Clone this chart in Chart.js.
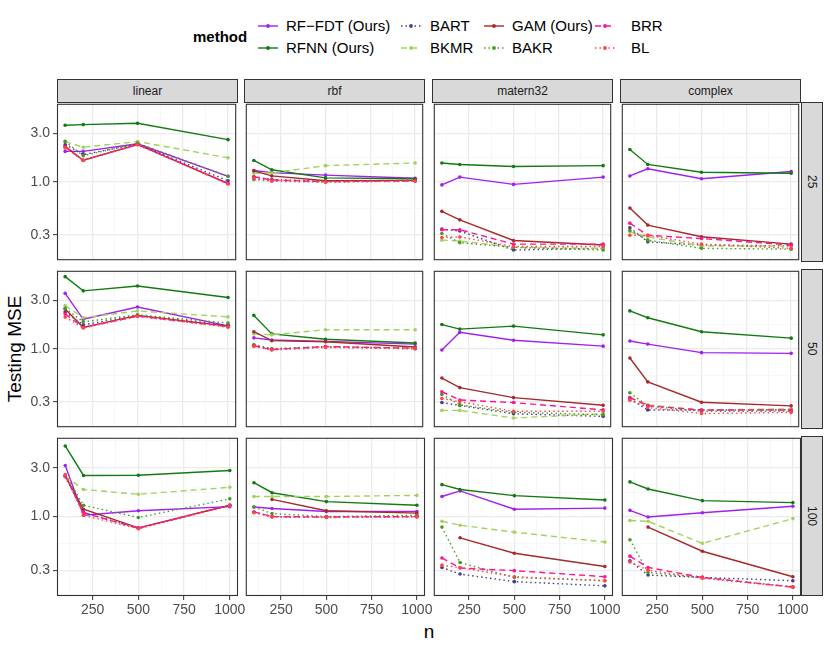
<!DOCTYPE html>
<html>
<head>
<meta charset="utf-8">
<script src="https://cdn.jsdelivr.net/npm/chart.js@4.4.1/dist/chart.umd.min.js"></script>
<style>
  body { margin: 0; width: 830px; height: 646px; background: #fff; position: relative; overflow: hidden;
         font-family: "Liberation Sans", Arial, Helvetica, sans-serif; }
  .abs { position: absolute; }
  .strip { position: absolute; background: #D9D9D9; border: 1px solid #333; box-sizing: border-box;
           color: #1A1A1A; font-size: 12px; display: flex; align-items: center; justify-content: center; }
  .vstrip { writing-mode: vertical-rl; }
  .leg { position: absolute; font-size: 15px; color: #000; line-height: 18px; white-space: nowrap; }
  canvas { position: absolute; }
</style>
</head>
<body>
<script>
// ---- data ----
const sampleSizes = [100, 200, 500, 1000];
const methods = ['RF\u2212FDT (Ours)', 'RFNN (Ours)', 'BART', 'BKMR', 'GAM (Ours)', 'BAKR', 'BRR', 'BL'];
const kernels = ['linear', 'rbf', 'matern32', 'complex'];
const dims = ['25', '50', '100'];
const yTickLabels = ['0.3', '1.0', '3.0'];
const xTickLabels = ['250', '500', '750', '1000'];

// rows follow the methods order above, columns follow sampleSizes
const linear_p25 = [
  [1.99, 1.99, 2.37, 1.13],
  [3.61, 3.66, 3.77, 2.60],
  [2.33, 1.85, 2.35, 1.02],
  [2.49, 2.19, 2.49, 1.72],
  [2.23, 1.63, 2.33, 0.96],
  [2.50, 1.80, 2.40, 1.13],
  [2.20, 1.63, 2.33, 0.96],
  [2.15, 1.62, 2.31, 0.95]
];
const rbf_p25 = [
  [1.29, 1.23, 1.16, 1.08],
  [1.62, 1.31, 1.09, 1.07],
  [1.12, 1.05, 1.01, 1.03],
  [1.21, 1.22, 1.44, 1.53],
  [1.28, 1.14, 1.02, 1.03],
  [1.05, 1.03, 1.00, 1.02],
  [1.12, 1.04, 1.00, 1.02],
  [1.08, 1.01, 0.99, 1.01]
];
const matern32_p25 = [
  [0.93, 1.11, 0.94, 1.11],
  [1.53, 1.48, 1.41, 1.44],
  [0.340, 0.326, 0.212, 0.220],
  [0.265, 0.260, 0.225, 0.220],
  [0.51, 0.42, 0.263, 0.237],
  [0.308, 0.250, 0.225, 0.212],
  [0.336, 0.336, 0.242, 0.242],
  [0.281, 0.285, 0.229, 0.229]
];
const complex_p25 = [
  [1.14, 1.34, 1.07, 1.26],
  [2.08, 1.48, 1.24, 1.21],
  [0.351, 0.255, 0.237, 0.233],
  [0.320, 0.285, 0.232, 0.232],
  [0.55, 0.373, 0.286, 0.242],
  [0.330, 0.265, 0.220, 0.216],
  [0.390, 0.296, 0.275, 0.237],
  [0.296, 0.296, 0.242, 0.220]
];
const linear_p50 = [
  [3.52, 1.95, 2.58, 1.68],
  [5.14, 3.72, 4.15, 3.20],
  [2.30, 1.72, 2.13, 1.70],
  [2.66, 2.02, 2.36, 2.06],
  [2.47, 1.62, 2.13, 1.67],
  [2.50, 1.84, 2.16, 1.79],
  [2.20, 1.62, 2.10, 1.65],
  [2.05, 1.60, 2.08, 1.63]
];
const rbf_p50 = [
  [1.28, 1.22, 1.18, 1.11],
  [2.13, 1.40, 1.24, 1.14],
  [1.07, 0.99, 1.04, 1.00],
  [1.40, 1.37, 1.54, 1.54],
  [1.47, 1.20, 1.17, 1.04],
  [1.10, 1.00, 1.05, 1.01],
  [1.07, 0.98, 1.05, 1.01],
  [1.05, 0.97, 1.03, 1.00]
];
const matern32_p50 = [
  [0.97, 1.45, 1.21, 1.06],
  [1.73, 1.56, 1.67, 1.37],
  [0.294, 0.275, 0.228, 0.215],
  [0.246, 0.246, 0.207, 0.228],
  [0.513, 0.413, 0.329, 0.277],
  [0.354, 0.279, 0.236, 0.223],
  [0.376, 0.312, 0.294, 0.249],
  [0.323, 0.300, 0.241, 0.241]
];
const complex_p50 = [
  [1.19, 1.11, 0.914, 0.90],
  [2.36, 2.02, 1.47, 1.27],
  [0.320, 0.248, 0.248, 0.250],
  [0.330, 0.280, 0.248, 0.255],
  [0.81, 0.47, 0.296, 0.273],
  [0.367, 0.273, 0.241, 0.241],
  [0.330, 0.273, 0.248, 0.248],
  [0.310, 0.263, 0.229, 0.235]
];
const linear_p100 = [
  [3.15, 1.03, 1.14, 1.25],
  [4.89, 2.52, 2.53, 2.82],
  [2.45, 1.10, 0.77, 1.29],
  [2.47, 1.84, 1.65, 1.93],
  [2.50, 1.18, 0.776, 1.29],
  [2.55, 1.29, 0.98, 1.49],
  [2.50, 1.09, 0.77, 1.29],
  [2.55, 1.03, 0.76, 1.28]
];
const rbf_p100 = [
  [1.24, 1.20, 1.12, 1.12],
  [2.14, 1.71, 1.40, 1.29],
  [1.11, 1.00, 0.99, 1.00],
  [1.57, 1.57, 1.57, 1.61],
  [null, 1.47, 1.14, 1.08],
  [1.24, 1.07, 1.00, 1.03],
  [1.11, 1.00, 0.99, 1.00],
  [1.09, 0.99, 0.98, 0.99]
];
const matern32_p100 = [
  [1.57, 1.78, 1.18, 1.21],
  [2.05, 1.84, 1.60, 1.45],
  [0.319, 0.275, 0.232, 0.211],
  [0.90, 0.824, 0.705, 0.565],
  [null, 0.621, 0.439, 0.326],
  [0.79, 0.356, 0.255, 0.237],
  [0.395, 0.315, 0.297, 0.259],
  [0.336, 0.318, 0.259, 0.237]
];
const complex_p100 = [
  [1.15, 0.99, 1.09, 1.26],
  [2.18, 1.86, 1.43, 1.37],
  [0.370, 0.269, 0.255, 0.237],
  [0.915, 0.90, 0.548, 0.956],
  [null, 0.79, 0.459, 0.259],
  [0.594, 0.285, 0.255, 0.207],
  [0.411, 0.319, 0.255, 0.205],
  [0.360, 0.300, 0.250, 0.205]
];

// ---- styles ----
const colors = ['#A020F0', '#137A13', '#483D8B', '#A2D25C', '#A52A2A', '#4A9A1E', '#FF1493', '#FF4545'];
const dashes = [[], [], [1.5, 3], [6, 4], [], [1.5, 3], [6, 4], [1.5, 3]];

const panels = [
  [linear_p25, rbf_p25, matern32_p25, complex_p25],
  [linear_p50, rbf_p50, matern32_p50, complex_p50],
  [linear_p100, rbf_p100, matern32_p100, complex_p100]
];

// ---- layout ----
const FONT = '"Liberation Sans", Arial, Helvetica, sans-serif';
const panelLeft = [57, 244, 432, 620];
const panelTop = [102, 269, 436];
const panelW = 181, panelH = 160;
const yAxisW = 46, xAxisH = 26, padR = 16;
const yMin = 0.168, yMax = 5.87;
const yGrid = [Math.sqrt(0.03), 0.3, Math.sqrt(0.3), 1, Math.sqrt(3), 3, Math.sqrt(30)];
const xGrid = [125, 250, 375, 500, 625, 750, 875, 1000];

function isMajorY(v) { return yTickLabels.some(t => Math.abs(parseFloat(t) - v) < 1e-6); }
function isMajorX(v) { return xTickLabels.indexOf(String(v)) >= 0; }

const borderPlugin = {
  id: 'panelBorder',
  afterDraw(chart) {
    const a = chart.chartArea, ctx = chart.ctx;
    ctx.save();
    ctx.strokeStyle = '#333333';
    ctx.lineWidth = 1.1;
    ctx.strokeRect(a.left + 0.5, a.top + 0.5, a.right - a.left - 1, a.bottom - a.top - 1);
    ctx.restore();
  }
};

function addDiv(cls, text, css) {
  const d = document.createElement('div');
  d.className = cls;
  d.textContent = text;
  Object.assign(d.style, css);
  document.body.appendChild(d);
  return d;
}

// strips
kernels.forEach((k, c) => {
  addDiv('strip', k, { left: panelLeft[c] + 'px', top: '79px', width: panelW + 'px', height: '24px' });
});
dims.forEach((d, r) => {
  addDiv('strip vstrip', d, { left: '801px', top: panelTop[r] + 'px', width: '22px', height: panelH + 'px' });
});

// axis titles
addDiv('abs', 'Testing MSE', { left: '-40px', top: '338px', width: '110px', textAlign: 'center',
  fontSize: '19px', transform: 'rotate(-90deg)', lineHeight: '22px' });
addDiv('abs', 'n', { left: '379px', top: '621px', width: '100px', textAlign: 'center', fontSize: '19px', lineHeight: '22px' });

// legend
addDiv('leg', 'method', { left: '193px', top: '28px', fontWeight: 'bold' });
const legCols = [[258, 286], [401, 430], [484, 512], [595, 631]];
const legRows = [26, 47.5];
methods.forEach((m, k) => {
  const col = Math.floor(k / 2), row = k % 2;
  const y = legRows[row];
  const svgNS = 'http://www.w3.org/2000/svg';
  const svg = document.createElementNS(svgNS, 'svg');
  svg.setAttribute('width', '22');
  svg.setAttribute('height', '10');
  svg.style.position = 'absolute';
  svg.style.left = legCols[col][0] + 'px';
  svg.style.top = (y - 5) + 'px';
  const ln = document.createElementNS(svgNS, 'line');
  ln.setAttribute('x1', '0'); ln.setAttribute('x2', '20');
  ln.setAttribute('y1', '5'); ln.setAttribute('y2', '5');
  ln.setAttribute('stroke', colors[k]);
  ln.setAttribute('stroke-width', '1.4');
  if (dashes[k].length) ln.setAttribute('stroke-dasharray', dashes[k].join(' '));
  svg.appendChild(ln);
  const pt = document.createElementNS(svgNS, 'circle');
  pt.setAttribute('cx', '10'); pt.setAttribute('cy', '5'); pt.setAttribute('r', '1.9');
  pt.setAttribute('fill', colors[k]);
  svg.appendChild(pt);
  document.body.appendChild(svg);
  addDiv('leg', m, { left: legCols[col][1] + 'px', top: (y - 9) + 'px' });
});

// panels
panels.forEach((rowPanels, r) => {
  rowPanels.forEach((vals, c) => {
    const leftCol = c === 0, bottomRow = r === 2;
    const cv = document.createElement('canvas');
    const w = panelW + (leftCol ? yAxisW : 0) + (bottomRow ? padR : 0);
    const h = panelH + (bottomRow ? xAxisH : 0);
    cv.width = w; cv.height = h;
    cv.style.width = w + 'px'; cv.style.height = h + 'px';
    cv.style.left = (panelLeft[c] - (leftCol ? yAxisW : 0)) + 'px';
    cv.style.top = panelTop[r] + 'px';
    document.body.appendChild(cv);

    const datasets = methods.map((m, k) => ({
      label: m,
      data: sampleSizes.map((n, i) => ({ x: n, y: vals[k][i] })),
      borderColor: colors[k],
      backgroundColor: colors[k],
      borderWidth: 1.4,
      borderDash: dashes[k],
      pointRadius: 1.8,
      pointBorderWidth: 0,
      pointHoverRadius: 0,
      tension: 0,
      spanGaps: false,
      order: methods.length - k
    }));

    new Chart(cv, {
      type: 'line',
      data: { datasets },
      options: {
        responsive: false,
        animation: false,
        devicePixelRatio: 1,
        layout: { padding: { left: 0, top: 0, bottom: 0, right: bottomRow ? padR : 0 } },
        plugins: { legend: { display: false }, tooltip: { enabled: false } },
        events: [],
        scales: {
          x: {
            type: 'linear', min: 55, max: 1045,
            afterBuildTicks: s => { s.ticks = xGrid.map(v => ({ value: v })); },
            afterFit: s => { s.height = bottomRow ? xAxisH : 0; s.paddingLeft = 0; s.paddingRight = 0; },
            border: { display: false },
            grid: {
              color: ctx => isMajorX(ctx.tick.value) ? '#EBEBEB' : '#F3F3F3',
              lineWidth: ctx => isMajorX(ctx.tick.value) ? 1.3 : 0.7,
              drawTicks: bottomRow, tickLength: 4, tickWidth: 1,
              tickColor: ctx => isMajorX(ctx.tick.value) ? '#333333' : 'rgba(0,0,0,0)'
            },
            ticks: {
              display: bottomRow, autoSkip: false, maxRotation: 0, minRotation: 0, padding: 2,
              color: '#4D4D4D', font: { size: 14, family: FONT },
              callback: v => isMajorX(v) ? String(v) : ''
            }
          },
          y: {
            type: 'logarithmic', min: yMin, max: yMax,
            afterBuildTicks: s => { s.ticks = yGrid.map(v => ({ value: v })); },
            afterFit: s => { s.width = leftCol ? yAxisW : 0; s.paddingTop = 0; s.paddingBottom = 0; },
            border: { display: false },
            grid: {
              color: ctx => isMajorY(ctx.tick.value) ? '#EBEBEB' : '#F3F3F3',
              lineWidth: ctx => isMajorY(ctx.tick.value) ? 1.3 : 0.7,
              drawTicks: leftCol, tickLength: 4, tickWidth: 1,
              tickColor: ctx => isMajorY(ctx.tick.value) ? '#333333' : 'rgba(0,0,0,0)'
            },
            ticks: {
              display: leftCol, autoSkip: false, padding: 3,
              color: '#4D4D4D', font: { size: 14, family: FONT },
              callback: v => {
                const i = yTickLabels.findIndex(t => Math.abs(parseFloat(t) - v) < 1e-6);
                return i >= 0 ? yTickLabels[i] : '';
              }
            }
          }
        }
      },
      plugins: [borderPlugin]
    });
  });
});
</script>
</body>
</html>
